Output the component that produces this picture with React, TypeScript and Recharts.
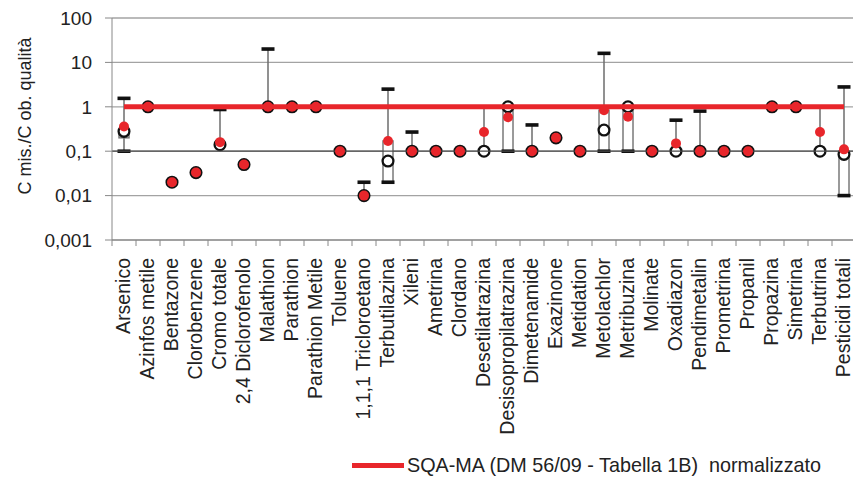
import React from "react";
import {
  ComposedChart,
  XAxis,
  YAxis,
  CartesianGrid,
  Bar,
  Line,
  Scatter,
  ReferenceLine,
} from "recharts";

// categorie (parametri)
const CATEGORIE = [
  "Arsenico", "Azinfos metile", "Bentazone", "Clorobenzene", "Cromo totale",
  "2,4 Diclorofenolo", "Malathion", "Parathion", "Parathion Metile", "Toluene",
  "1,1,1 Tricloroetano", "Terbutilazina", "Xileni", "Ametrina", "Clordano",
  "Desetilatrazina", "Desisopropilatrazina", "Dimetenamide", "Exazinone", "Metidation",
  "Metolachlor", "Metribuzina", "Molinate", "Oxadiazon", "Pendimetalin",
  "Prometrina", "Propanil", "Propazina", "Simetrina", "Terbutrina", "Pesticidi totali",
];

// punto rosso pieno
const ROSSO = [
  0.36, 1, 0.02, 0.033, 0.16, 0.05, 1, 1, 1, 0.1,
  0.01, 0.17, 0.1, 0.1, 0.1, 0.27, 0.58, 0.1, 0.2, 0.1,
  0.84, 0.6, 0.1, 0.15, 0.1, 0.1, 0.1, 1, 1, 0.27, 0.11,
];

// cerchio vuoto
const VUOTO = [
  0.28, 1, 0.02, 0.033, 0.14, 0.05, 1, 1, 1, 0.1,
  0.01, 0.06, 0.1, 0.1, 0.1, 0.1, 1, 0.1, 0.2, 0.1,
  0.3, 1, 0.1, 0.1, 0.1, 0.1, 0.1, 1, 1, 0.1, 0.085,
];

// linea min-max
const MINIMO = [
  0.1, null, null, null, 0.14, null, 1, null, null, null,
  0.01, 0.02, 0.1, null, null, 0.1, 0.1, 0.1, null, null,
  0.1, 0.1, null, 0.1, 0.1, null, null, null, null, 0.1, 0.01,
];
const MASSIMO = [
  1.55, null, null, null, 0.87, null, 20, null, null, null,
  0.02, 2.5, 0.27, null, null, 1, 1, 0.39, null, null,
  16, 1, null, 0.5, 0.8, null, null, null, null, 1, 2.8,
];

// tacche nere
const TACCA_MAX = [
  1.55, null, null, null, 0.87, null, 20, null, null, null,
  0.02, 2.5, 0.27, null, null, null, null, 0.39, null, null,
  16, null, null, 0.5, 0.8, null, null, null, null, null, 2.8,
];
const TACCA_MIN = [
  0.1, null, null, null, null, null, null, null, null, null,
  null, 0.02, null, null, null, null, 0.1, null, null, null,
  0.1, 0.1, null, null, null, null, null, null, null, null, 0.01,
];

// riquadro
const BOX_BASSO = [
  0.2, null, null, null, null, null, null, null, null, null,
  null, 0.02, null, null, null, null, 0.1, null, null, null,
  0.1, 0.1, null, null, null, null, null, null, null, null, 0.01,
];
const BOX_ALTO = [
  0.28, null, null, null, null, null, null, null, null, null,
  null, 0.17, null, null, null, null, 1, null, null, null,
  0.84, 1, null, null, null, null, null, null, null, null, 0.1,
];

const SQA_MA = [
  1, 1, 1, 1, 1, 1, 1, 1, 1, 1,
  1, 1, 1, 1, 1, 1, 1, 1, 1, 1,
  1, 1, 1, 1, 1, 1, 1, 1, 1, 1, 1,
];

const Y_TICKS = [0.001, 0.01, 0.1, 1, 10, 100];

const RED = "#e8262b";
const FONT = '"Liberation Sans", Arial, sans-serif';

const data = CATEGORIE.map((name, i) => ({
  name,
  rosso: ROSSO[i],
  vuoto: VUOTO[i],
  baffo: MINIMO[i] != null && MASSIMO[i] != null ? [MINIMO[i], MASSIMO[i]] : null,
  box: BOX_BASSO[i] != null && BOX_ALTO[i] != null ? [BOX_BASSO[i], BOX_ALTO[i]] : null,
  taccaMax: TACCA_MAX[i],
  taccaMin: TACCA_MIN[i],
  sqa: SQA_MA[i],
}));

const ok = (v: any) => typeof v === "number" && Number.isFinite(v);

function Baffo(props: any) {
  const { x, y, width, height, payload } = props;
  if (!payload || !payload.baffo || !ok(y) || !ok(height)) return <g />;
  const cx = x + width / 2;
  return <line x1={cx} x2={cx} y1={y} y2={y + height} stroke="#6c6c6c" strokeWidth={1.5} />;
}

function Scatola(props: any) {
  const { x, y, width, height, payload } = props;
  if (!payload || !payload.box || !ok(y) || !ok(height)) return <g />;
  return (
    <rect
      x={x}
      y={Math.min(y, y + height)}
      width={width}
      height={Math.abs(height)}
      fill="#fff"
      stroke="#7a7a7a"
      strokeWidth={1.5}
    />
  );
}

function Tacca(props: any) {
  const { cx, cy } = props;
  if (!ok(cx) || !ok(cy)) return <g />;
  return <rect x={cx - 6.5} y={cy - 1.8} width={13} height={3.6} fill="#111" />;
}

function CerchioVuoto(props: any) {
  const { cx, cy } = props;
  if (!ok(cx) || !ok(cy)) return <g />;
  return <circle cx={cx} cy={cy} r={5.4} fill="#fff" stroke="#111" strokeWidth={2.3} />;
}

function PuntoRosso(props: any) {
  const { cx, cy } = props;
  if (!ok(cx) || !ok(cy)) return <g />;
  return <circle cx={cx} cy={cy} r={5} fill={RED} />;
}

function EtichettaX(props: any) {
  const { x, y, payload } = props;
  const half = payload && ok(payload.offset) ? payload.offset : 12;
  const ty = y + 18;
  return (
    <g>
      <line x1={x - half} x2={x - half} y1={y} y2={y + 6} stroke="#888" strokeWidth={1} />
      <text
        x={x}
        y={ty}
        dy="0.3em"
        transform={`rotate(-90, ${x}, ${ty})`}
        textAnchor="end"
        fontSize={19.5}
        fill="#222"
        fontFamily={FONT}
      >
        {payload.value}
      </text>
    </g>
  );
}

function TitoloY(props: any) {
  const { viewBox } = props;
  const x = viewBox.x + 25;
  const y = viewBox.y + viewBox.height / 2 - 13;
  return (
    <text
      x={x}
      y={y}
      dy="0.36em"
      transform={`rotate(-90, ${x}, ${y})`}
      textAnchor="middle"
      fontSize={18}
      fill="#222"
      fontFamily={FONT}
    >
      C mis./C ob. qualità
    </text>
  );
}

export default function App() {
  return (
    <div
      style={{
        position: "absolute",
        left: 0,
        top: 0,
        width: 853,
        height: 477,
        overflow: "hidden",
        background: "#fff",
        fontFamily: FONT,
      }}
    >
      <ComposedChart
        width={870}
        height={477}
        data={data}
        margin={{ top: 18, right: 14, bottom: 0, left: 0 }}
        style={{ fontFamily: FONT }}
      >
        <CartesianGrid vertical={false} stroke="#a3a3a3" strokeWidth={1.3} />
        <XAxis
          dataKey="name"
          interval={0}
          height={237}
          tickLine={false}
          tickSize={0}
          tickMargin={0}
          tick={<EtichettaX />}
          axisLine={{ stroke: "#888" }}
        />
        <XAxis xAxisId="b" dataKey="name" hide />
        <YAxis
          scale="log"
          domain={[0.001, 100]}
          ticks={Y_TICKS}
          interval={0}
          allowDataOverflow
          width={112}
          tickSize={7}
          tickMargin={13}
          tickLine={{ stroke: "#888" }}
          axisLine={{ stroke: "#888" }}
          tick={{ fontSize: 19, fill: "#222", fontFamily: FONT }}
          tickFormatter={(v: number) => String(v).replace(".", ",")}
          label={<TitoloY />}
        />
        <Bar dataKey="baffo" barSize={2} shape={<Baffo />} isAnimationActive={false} zIndex={100} />
        <Bar xAxisId="b" dataKey="box" barSize={10} shape={<Scatola />} isAnimationActive={false} zIndex={110} />
        <Scatter dataKey="taccaMax" shape={<Tacca />} isAnimationActive={false} zIndex={200} />
        <Scatter dataKey="taccaMin" shape={<Tacca />} isAnimationActive={false} zIndex={200} />
        <Scatter dataKey="vuoto" shape={<CerchioVuoto />} isAnimationActive={false} zIndex={300} />
        <ReferenceLine y={0.1} stroke="#4a4a4a" strokeWidth={1.2} zIndex={350} />
        <Line
          dataKey="sqa"
          stroke={RED}
          strokeWidth={5}
          dot={false}
          activeDot={false}
          isAnimationActive={false}
          zIndex={400}
        />
        <Scatter dataKey="rosso" shape={<PuntoRosso />} isAnimationActive={false} zIndex={500} />
      </ComposedChart>
      <div
        style={{
          position: "absolute",
          left: 352,
          top: 454,
          display: "flex",
          alignItems: "center",
          fontSize: 19.8,
          lineHeight: "23px",
          color: "#222",
          whiteSpace: "pre",
        }}
      >
        <span style={{ display: "inline-block", width: 52, height: 5, background: RED, marginRight: 3 }} />
        <span>SQA-MA (DM 56/09 - Tabella 1B)  normalizzato</span>
      </div>
    </div>
  );
}
